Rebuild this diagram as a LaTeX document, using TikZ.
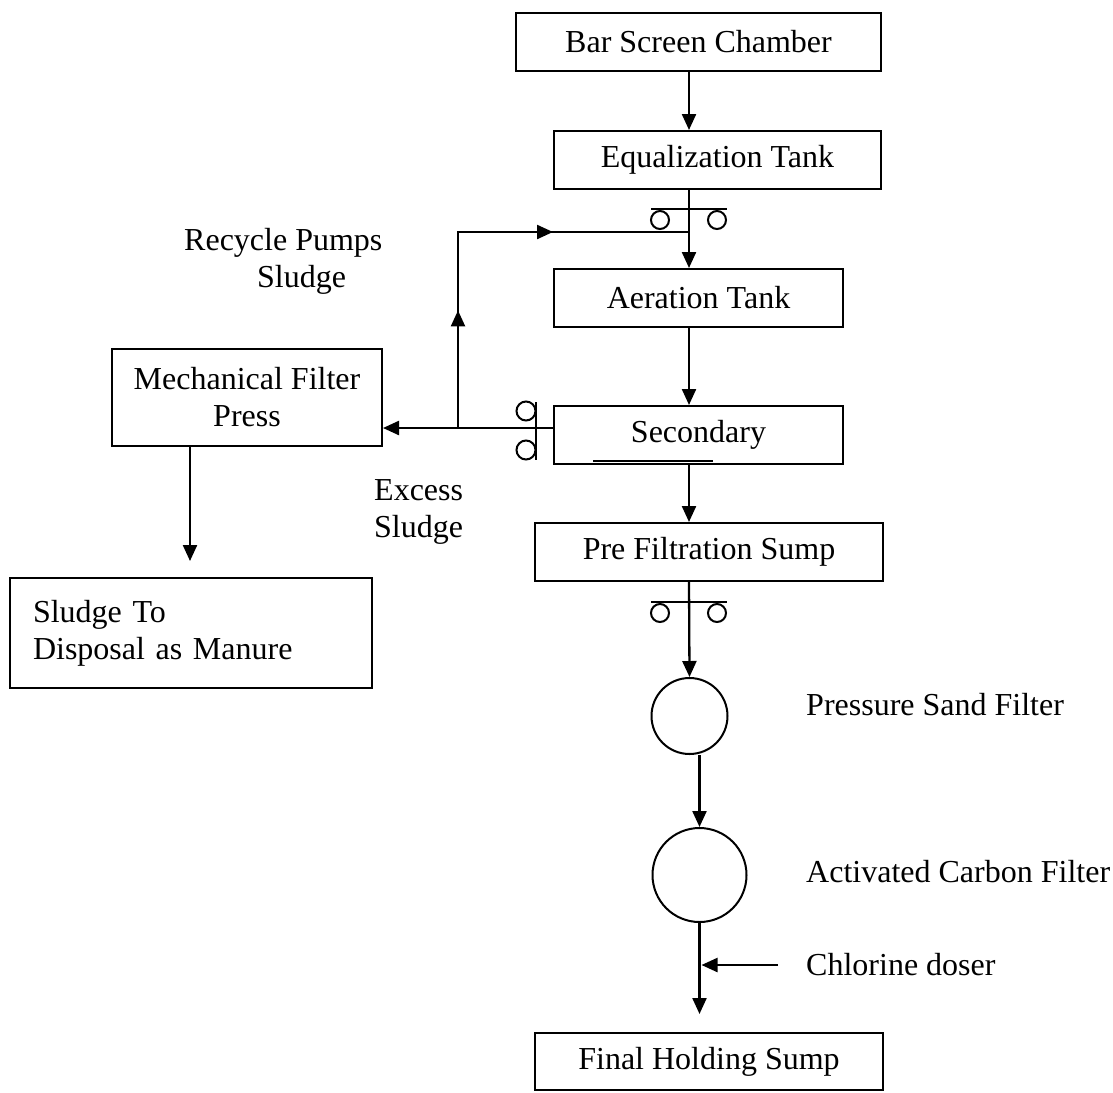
\documentclass[tikz,border=0pt]{standalone}
\usepackage{fontspec}
\setmainfont{Liberation Serif}
\usetikzlibrary{arrows.meta,calc}

\tikzset{
  unit/.style={draw, line width=2pt, inner sep=0pt, minimum height=58pt},
  filter/.style={circle, draw, line width=2pt, inner sep=0pt},
  flow/.style={line width=2.3pt, -{Triangle[length=16pt,width=14pt]}},
  pipe/.style={line width=2.3pt},
  lbl/.style={inner sep=0pt, anchor=west, align=left}
}

\begin{document}
\begin{tikzpicture}[x=1pt, y=-1pt, font=\fontsize{32}{37}\selectfont]
    \useasboundingbox (0,0) rectangle (1113,1092);

    % Main treatment units
    \node[unit, minimum width=365pt] (bar) at (698.5,42) {Bar Screen Chamber};
    \node[unit, minimum width=327pt] (eq) at (717.5,160) {Equalization Tank};
    \node[unit, minimum width=289pt] (aer) at (698.5,298) {Aeration Tank};
    \node[unit, minimum width=289pt] (sec) at (698.5,435) {Secondary};
    \node[unit, minimum width=348pt] (pre) at (709,552) {Pre Filtration Sump};
    \node[filter, minimum size=76pt] (psf) at (689.5,716) {};
    \node[filter, minimum size=94pt] (acf) at (699.5,875) {};
    \node[unit, minimum width=348pt, minimum height=57pt] (fhs) at (709,1061.5) {Final Holding Sump};

    % Sludge handling
    \node[unit, minimum width=270pt, minimum height=97pt, align=center] (mfp) at (247,397.5) {Mechanical Filter\\Press};
    \node[unit, minimum width=362pt, minimum height=110pt, text width=316pt, align=left] (disp) at (191,633) {Sludge To\\Disposal as Manure};

    % Labels
    \node[lbl] (rps) at (184,261) {Recycle Pumps\\\hspace*{73pt}Sludge};
    \node[lbl] (exs) at (374,512) {Excess\\Sludge};
    \node[lbl] (psfl) at (806,705) {Pressure Sand Filter};
    \node[lbl] (acfl) at (806,872) {Activated Carbon Filter};
    \node[lbl] (chl) at (806,965) {Chlorine doser};

    % Helper points
    \coordinate (mx) at (689,0);
    \coordinate (jn) at (458,428);
    \coordinate (tp) at (458,232);
    \coordinate (dn) at (190,0);

    % Main flow
    \draw[flow] (bar.south -| mx) -- (eq.north -| mx);
    \draw[flow] (eq.south -| mx) -- (aer.north -| mx);
    \draw[flow] (aer.south -| mx) -- (sec.north -| mx);
    \draw[flow] (sec.south -| mx) -- (pre.north -| mx);
    \draw[flow] (pre.south -| mx) -- (psf.north);
    \draw[flow] (psf.south -| acf) -- (acf.north);
    \draw[flow, shorten >=18pt] (acf.south) -- (fhs.north -| acf);
    \draw[flow] ([xshift=-28pt]chl.west) -- ([xshift=2pt]acf.center |- chl.west);

    % Pumps on the main line
    \foreach \py in {209,602} {
        \draw[pipe] (651,\py) -- (727,\py);
        \draw[line width=2pt] (660,\py+11) circle (9pt) (717,\py+11) circle (9pt);
    }

    % Sludge pump at the secondary
    \draw[pipe] (536,402) -- (536,460);
    \draw[line width=2pt] (526,411) circle (9.5pt) (526,450) circle (9.5pt);
    \draw[pipe] (593,461) -- (713,461);

    % Excess and recycled sludge
    \draw[flow] (sec.west |- jn) -- (mfp.east |- jn);
    \draw[flow] (jn) -- ($(jn)!0.6!(tp)$);
    \draw[pipe] (jn) -- (tp) -- (tp -| mx);
    \draw[flow] (tp) -- (tp -| sec.west);
    \draw[flow, shorten >=16pt] (mfp.south -| dn) -- (disp.north -| dn);

\end{tikzpicture}
\end{document}
